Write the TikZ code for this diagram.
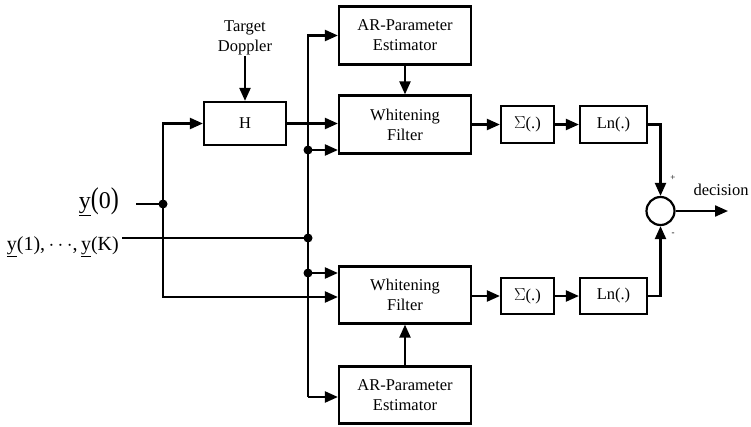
\documentclass[tikz,border=0pt]{standalone}
\usepackage{fontspec}
\setmainfont{Liberation Serif}
\usetikzlibrary{arrows.meta,calc}
\begin{document}
\begin{tikzpicture}[x=1pt,y=-1pt,
  every node/.style={font=\fontsize{16.5}{20}\selectfont},
  blk/.style={draw,line width=2.2pt,rectangle,inner sep=0pt,align=center},
  arr/.style={line width=2.2pt,-{Triangle[length=13pt,width=11pt]}},
  ln/.style={line width=2.2pt},
  dot/.style={circle,fill,inner sep=0pt,minimum size=9pt}]
\useasboundingbox (0,0) rectangle (751,426);
% blocks
\node[blk,minimum width=82pt,minimum height=43pt] (H) at (245,123.5) {H};
\node[blk,minimum width=132pt,minimum height=58pt] (ART) at (405,35.5) {AR-Parameter\\Estimator};
\node[blk,minimum width=132pt,minimum height=58pt] (WFT) at (405,124.5) {Whitening\\Filter};
\node[blk,minimum width=53pt,minimum height=37pt] (ST) at (527.5,124.5) {$\Sigma$(.)};
\node[blk,minimum width=67pt,minimum height=37pt] (LT) at (613.5,124.5) {Ln(.)};
\node[blk,minimum width=132pt,minimum height=57pt] (WFB) at (405,295) {Whitening\\Filter};
\node[blk,minimum width=53pt,minimum height=36pt] (SB) at (527.5,296) {$\Sigma$(.)};
\node[blk,minimum width=67pt,minimum height=36pt] (LB) at (613.5,296) {Ln(.)};
\node[blk,minimum width=132pt,minimum height=57pt] (ARB) at (405,395) {AR-Parameter\\Estimator};
\node[draw,circle,line width=2.2pt,minimum size=28pt,inner sep=0pt] (C) at (660.5,211) {};
% labels
\node (TD) at (245,38) [align=center,inner sep=1pt] {Target\\Doppler};
\node (Y0) [anchor=east,inner sep=0pt,font=\fontsize{24}{24}\selectfont] at (119,202) {\underline{y}\scalebox{1}[1.25]{(}0\scalebox{1}[1.25]{)}};
\node (YK) [anchor=east,font=\fontsize{20}{20}\selectfont,inner sep=0pt] at (119,247) {\underline{y}(1),\,$\cdots$,\,\underline{y}(K)};
\node (DEC) at (721,190) {decision};
\node (PL) at (673,178) {\fontsize{9}{9}\selectfont +};
\node (MI) at (673,234) {\fontsize{9}{9}\selectfont -};
% coordinates
\coordinate (y0e) at (136,204);
\coordinate (D0) at (163,204);
\coordinate (LT0) at (163,123.5);
\coordinate (LB0) at (163,297);
\coordinate (yke) at (122,238);
\coordinate (BT) at (308,35.5);
\coordinate (BB) at (308,397);
\coordinate (D1) at (308,150);
\coordinate (D2) at (308,238);
\coordinate (D3) at (308,273);
\coordinate (OUT) at (728,211);
% connectors
\draw[arr] (TD.south) -- (H.north);
\draw[ln] (y0e) -- (D0);
\draw[arr] (D0) -- (LT0) -- (H.west);
\draw[arr] (D0) -- (LB0) -- (WFB.west |- LB0);
\draw[arr] (H.east) -- (WFT.west |- H.east);
\draw[ln] (yke) -- (D2);
\draw[arr] (BB) -- (BT) -- (ART.west);
\draw[arr] (BT |- BB) -- (ARB.west |- BB);
\draw[arr] (D1) -- (WFT.west |- D1);
\draw[arr] (D3) -- (WFB.west |- D3);
\draw[arr] (ART.south) -- (WFT.north);
\draw[arr] (ARB.north) -- (WFB.south);
\draw[arr] (WFT.east) -- (ST.west);
\draw[arr] (ST.east) -- (LT.west);
\draw[arr] (LT.east) -| (C.north);
\draw[arr] (WFB.east |- SB.west) -- (SB.west);
\draw[arr] (SB.east) -- (LB.west);
\draw[arr] (LB.east) -| (C.south);
\draw[arr] (C.east) -- (OUT);
% dots
\node[dot] at (D0) {};
\node[dot] at (D1) {};
\node[dot] at (D2) {};
\node[dot] at (D3) {};
\end{tikzpicture}
\end{document}
